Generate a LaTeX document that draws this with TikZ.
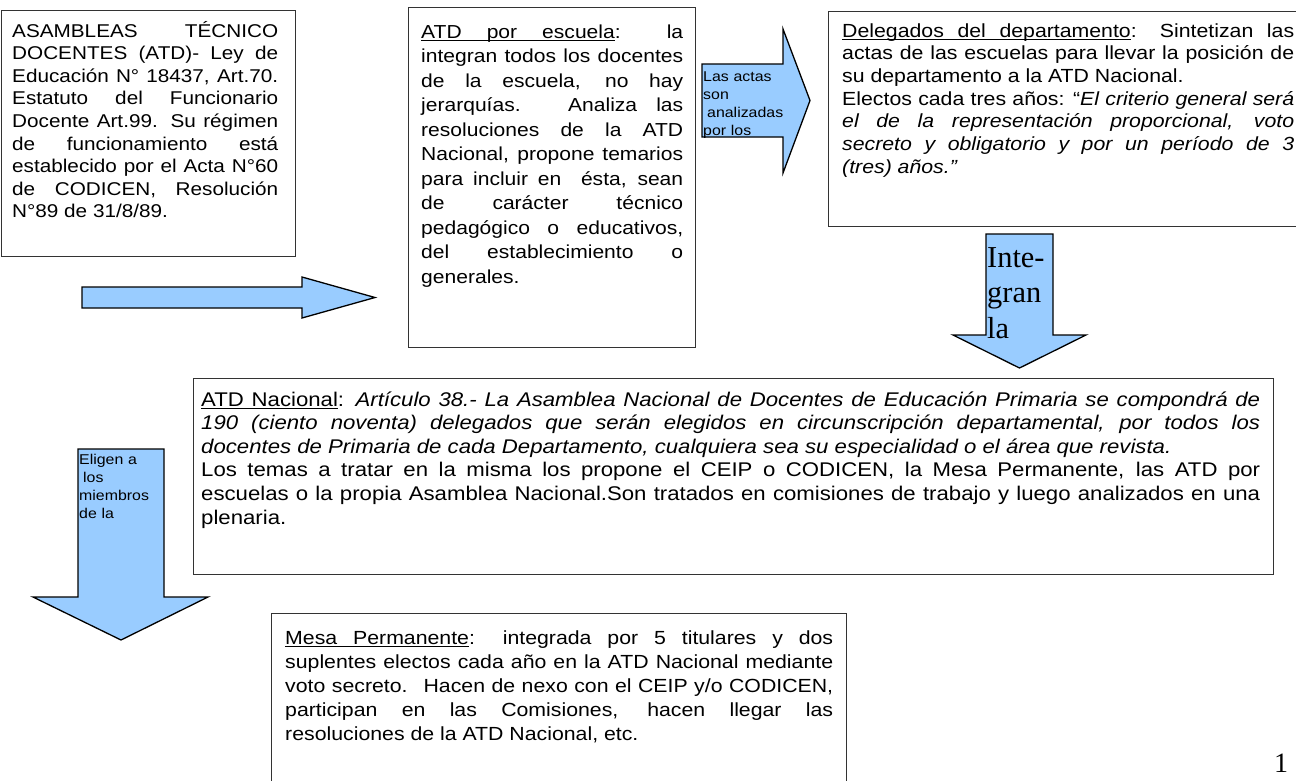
\documentclass[tikz,border=0pt]{standalone}
\usepackage{fontspec}
\setmainfont[FakeStretch=1.12]{Liberation Sans}
\newfontfamily\timesfont{Liberation Serif}
\newcommand{\ulw}[1]{\setbox0\hbox{#1}\rlap{\rule[-3.4pt]{\wd0}{1.2pt}}\box0}
\newcommand{\ulsp}{\leaders\hrule height -2.2pt depth 3.4pt\hskip\fontdimen2\font plus\fontdimen3\font minus\fontdimen4\font}
\tolerance=10000
\hbadness=10000
\hyphenpenalty=10000
\definecolor{arrowblue}{HTML}{99CCFF}
\definecolor{boxline}{HTML}{333333}
\tikzset{
  box/.style={draw=boxline, line width=0.9pt},
  blockarrow/.style={draw=black, fill=arrowblue, line width=1.3pt},
  boxtext/.style={anchor=base west, inner sep=0pt, align=justify},
  arrowtext/.style={anchor=base west, inner sep=0pt, align=left, text width=#1,
    font=\fontsize{14.2}{18.2}\selectfont},
}
\begin{document}
\begin{tikzpicture}[x=1pt, y=-1pt]
  \useasboundingbox (0,0) rectangle (1296,780);

  \draw[box] (1,10) rectangle (295,256);
  \node[boxtext, text width=266pt, font=\fontsize{18.5}{22.6}\selectfont] (asambleas) at (12,37)
    {ASAMBLEAS TÉCNICO\linebreak DOCENTES (ATD)- Ley de\linebreak
     Educación N° 18437, Art.70.\linebreak Estatuto del Funcionario\linebreak
     Docente Art.99. Su régimen\linebreak de funcionamiento está\linebreak
     establecido por el Acta N°60\linebreak de CODICEN, Resolución\linebreak N°89 de 31/8/89.};

  \draw[box] (408,7) rectangle (695,347);
  \node[boxtext, text width=262pt, font=\fontsize{18.8}{24.5}\selectfont] (escuela) at (421,38)
    {\ulw{ATD}\ulsp\ulw{por}\ulsp\ulw{escuela}: la\linebreak integran todos los docentes\linebreak
     de la escuela, no hay\linebreak jerarquías. Analiza las\linebreak
     resoluciones de la ATD\linebreak Nacional, propone temarios\linebreak
     para incluir en \ ésta, sean\linebreak de carácter técnico\linebreak
     pedagógico o educativos,\linebreak del establecimiento o\linebreak generales.};

  \draw[box] (828,11) rectangle (1310,226);
  \node[boxtext, text width=452pt, font=\fontsize{19}{22.7}\selectfont] (delegados) at (842,37)
    {\ulw{Delegados}\ulsp\ulw{del}\ulsp\ulw{departamento}: Sintetizan las\linebreak
     actas de las escuelas para llevar la posición de\linebreak
     su departamento a la ATD Nacional.\\
     Electos cada tres años: “\textit{El criterio general será}\linebreak
     \textit{el de la representación proporcional, voto}\linebreak
     \textit{secreto y obligatorio y por un período de 3}\linebreak
     \textit{(tres) años.”}};

  \draw[box] (193,378) rectangle (1273,574);
  \node[boxtext, text width=1059pt, font=\fontsize{19.8}{23.6}\selectfont] (nacional) at (201,406)
    {\ulw{ATD}\ulsp\ulw{Nacional}: \textit{Artículo 38.- La Asamblea Nacional de Docentes de Educación Primaria se compondrá de}\linebreak
     \textit{190 (ciento noventa) delegados que serán elegidos en circunscripción departamental, por todos los}\linebreak
     \textit{docentes de Primaria de cada Departamento, cualquiera sea su especialidad o el área que revista.}\\
     Los temas a tratar en la misma los propone el CEIP o CODICEN, la Mesa Permanente, las ATD por\linebreak
     escuelas o la propia Asamblea Nacional.Son tratados en comisiones de trabajo y luego analizados en una\linebreak
     plenaria.};

  \draw[box] (271,613) rectangle (846,800);
  \node[boxtext, text width=548pt, font=\fontsize{19}{24}\selectfont] (mesa) at (285,644)
    {\ulw{Mesa}\ulsp\ulw{Permanente}: integrada por 5 titulares y dos\linebreak
     suplentes electos cada año en la ATD Nacional mediante\linebreak
     voto secreto. \ Hacen de nexo con el CEIP y/o CODICEN,\linebreak
     participan en las Comisiones, hacen llegar las\linebreak
     resoluciones de la ATD Nacional, etc.};

  % flechas
  \draw[blockarrow] (82,287) -- (302,287) -- (302,277) -- (375,297.5) -- (302,318) -- (302,308) -- (82,308) -- cycle;
  \draw[blockarrow] (702,64) -- (783,64) -- (783,29) -- (810,100.5) -- (783,173) -- (783,137) -- (702,137) -- cycle;
  \draw[blockarrow] (986,234) -- (1053,234) -- (1053,335) -- (1086,335) -- (1019.5,368) -- (953,335) -- (986,335) -- cycle;
  \draw[blockarrow] (78,449) -- (164,449) -- (164,597) -- (208,597) -- (121,640) -- (33,597) -- (78,597) -- cycle;

  \node[arrowtext=80pt] (actas) at (703,81)
    {Las actas\\son\\\hspace*{4pt}analizadas\\por los};
  \node[anchor=base west, inner sep=0pt, align=left, text width=66pt,
    font=\timesfont\fontsize{30.4}{35.5}\selectfont] (integran) at (987,267)
    {Inte-\\gran\\la};
  \node[arrowtext=85pt] (eligen) at (79,464)
    {Eligen a\\\hspace*{4pt}los\\miembros\\de la};

  \node[anchor=base, inner sep=0pt, font=\timesfont\fontsize{28}{30}\selectfont] (pagina) at (1281,772) {1};
\end{tikzpicture}
\end{document}
